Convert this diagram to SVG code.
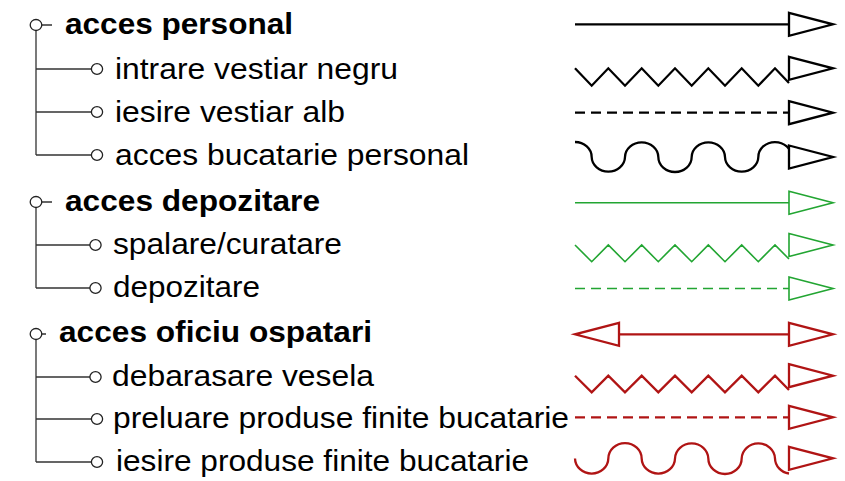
<svg xmlns="http://www.w3.org/2000/svg" width="845" height="481" viewBox="0 0 845 481">
<style>
text{font-family:"Liberation Sans",Arial,sans-serif;font-size:30px;fill:#000}
.t{font-weight:bold}
.tree{fill:none;stroke:#333;stroke-width:1.3}
.dot{fill:#fff;stroke:#222;stroke-width:1.3}
.k{stroke:#000;stroke-width:2.3;fill:none}
.g{stroke:#22a532;stroke-width:1.6;fill:none}
.r{stroke:#b01414;stroke-width:2.3;fill:none}
.dash{stroke-dasharray:10 6}
.ah{fill:#fff}
</style>
<defs>
<polygon id="ah" points="0,-11.5 44,0 0,11.5"/>
</defs>
<rect width="845" height="481" fill="#fff"/>

<g id="tree-lines" class="tree">
<path d="M36,30V155M36,69H91M36,112H91M36,155H91M42,25H52"/>
<path d="M36,207V288M36,245H90M36,288H90M42,202H52"/>
<path d="M36,339V462M36,377H90M36,419H91M36,462H91M41,334H46"/>
</g>

<g id="node-acces-personal">
<ellipse class="dot" cx="36" cy="25" rx="5.8" ry="5.5"/>
<text class="t" x="65" y="34" textLength="228" lengthAdjust="spacingAndGlyphs">acces personal</text>
</g>
<g id="node-intrare-vestiar-negru">
<ellipse class="dot" cx="97" cy="69" rx="5.6" ry="5.3"/>
<text x="115" y="79" textLength="283" lengthAdjust="spacingAndGlyphs">intrare vestiar negru</text>
</g>
<g id="node-iesire-vestiar-alb">
<ellipse class="dot" cx="97" cy="112" rx="5.6" ry="5.3"/>
<text x="115" y="122" textLength="230" lengthAdjust="spacingAndGlyphs">iesire vestiar alb</text>
</g>
<g id="node-acces-bucatarie-personal">
<ellipse class="dot" cx="97" cy="155" rx="5.6" ry="5.3"/>
<text x="115" y="165" textLength="354" lengthAdjust="spacingAndGlyphs">acces bucatarie personal</text>
</g>

<g id="node-acces-depozitare">
<ellipse class="dot" cx="36" cy="202" rx="5.8" ry="5.5"/>
<text class="t" x="65" y="211" textLength="255" lengthAdjust="spacingAndGlyphs">acces depozitare</text>
</g>
<g id="node-spalare-curatare">
<ellipse class="dot" cx="95.5" cy="245" rx="5.6" ry="5.3"/>
<text x="113" y="254" textLength="229" lengthAdjust="spacingAndGlyphs">spalare/curatare</text>
</g>
<g id="node-depozitare">
<ellipse class="dot" cx="95.5" cy="288" rx="5.6" ry="5.3"/>
<text x="113" y="297" textLength="147" lengthAdjust="spacingAndGlyphs">depozitare</text>
</g>

<g id="node-acces-oficiu-ospatari">
<ellipse class="dot" cx="36" cy="334" rx="5.8" ry="5.5"/>
<text class="t" x="59" y="342" textLength="313" lengthAdjust="spacingAndGlyphs">acces oficiu ospatari</text>
</g>
<g id="node-debarasare-vesela">
<ellipse class="dot" cx="95.5" cy="377" rx="5.6" ry="5.3"/>
<text x="112" y="386" textLength="262" lengthAdjust="spacingAndGlyphs">debarasare vesela</text>
</g>
<g id="node-preluare-produse">
<ellipse class="dot" cx="97" cy="419" rx="5.6" ry="5.3"/>
<text x="113" y="428" textLength="456" lengthAdjust="spacingAndGlyphs">preluare produse finite bucatarie</text>
</g>
<g id="node-iesire-produse">
<ellipse class="dot" cx="97" cy="462" rx="5.6" ry="5.3"/>
<text x="116" y="471" textLength="413" lengthAdjust="spacingAndGlyphs">iesire produse finite bucatarie</text>
</g>

<g id="connectors">
<g class="k">
<path d="M575,24.3H789"/>
<path d="M575,68.3L591.7,85.7L608.3,68.3L625,85.7L641.7,68.3L658.3,85.7L675,68.3L691.7,85.7L708.3,68.3L725,85.7L741.7,68.3L758.3,85.7L775,68.3L789,83"/>
<path class="dash" d="M575,112.7H789"/>
<path d="M575,142A16.67,15 0 0 1 591.67,157A16.67,15 0 0 0 625,157A16.67,15 0 0 1 658.33,157A16.67,15 0 0 0 691.67,157A16.67,15 0 0 1 725,157A16.67,15 0 0 0 758.33,157A16.67,15 0 0 1 791.67,157"/>
<use href="#ah" class="ah" x="789" y="24.3"/>
<use href="#ah" class="ah" x="789" y="68.3"/>
<use href="#ah" class="ah" x="789" y="112.7"/>
<use href="#ah" class="ah" x="789" y="157"/>
</g>
<g class="g">
<path d="M575,202.7H789"/>
<path d="M575,245L591.7,261.7L608.3,245L625,261.7L641.7,245L658.3,261.7L675,245L691.7,261.7L708.3,245L725,261.7L741.7,245L758.3,261.7L775,245L789,259"/>
<path class="dash" d="M575,288.5H789"/>
<use href="#ah" class="ah" x="789" y="202.7"/>
<use href="#ah" class="ah" x="789" y="245"/>
<use href="#ah" class="ah" x="789" y="288.5"/>
</g>
<g class="r">
<path d="M619,334.3H789"/>
<path d="M575,375.7L591.7,392.3L608.3,375.7L625,392.3L641.7,375.7L658.3,392.3L675,375.7L691.7,392.3L708.3,375.7L725,392.3L741.7,375.7L758.3,392.3L775,375.7L789,390"/>
<path class="dash" d="M575,417.3H789"/>
<path d="M575,458.5A16.67,15.5 0 0 0 608.33,458.5A16.67,15.5 0 0 1 641.67,458.5A16.67,15.5 0 0 0 675,458.5A16.67,15.5 0 0 1 708.33,458.5A16.67,15.5 0 0 0 741.67,458.5A16.67,15.5 0 0 1 775,458.5A16.67,15.5 0 0 0 789,473.5"/>
<use href="#ah" class="ah" x="789" y="334.3"/>
<use href="#ah" class="ah" x="619" y="334.3" transform="translate(1238,0) scale(-1,1)"/>
<use href="#ah" class="ah" x="789" y="375.7"/>
<use href="#ah" class="ah" x="789" y="417.3"/>
<use href="#ah" class="ah" x="789" y="458.3"/>
</g>
</g>
</svg>
